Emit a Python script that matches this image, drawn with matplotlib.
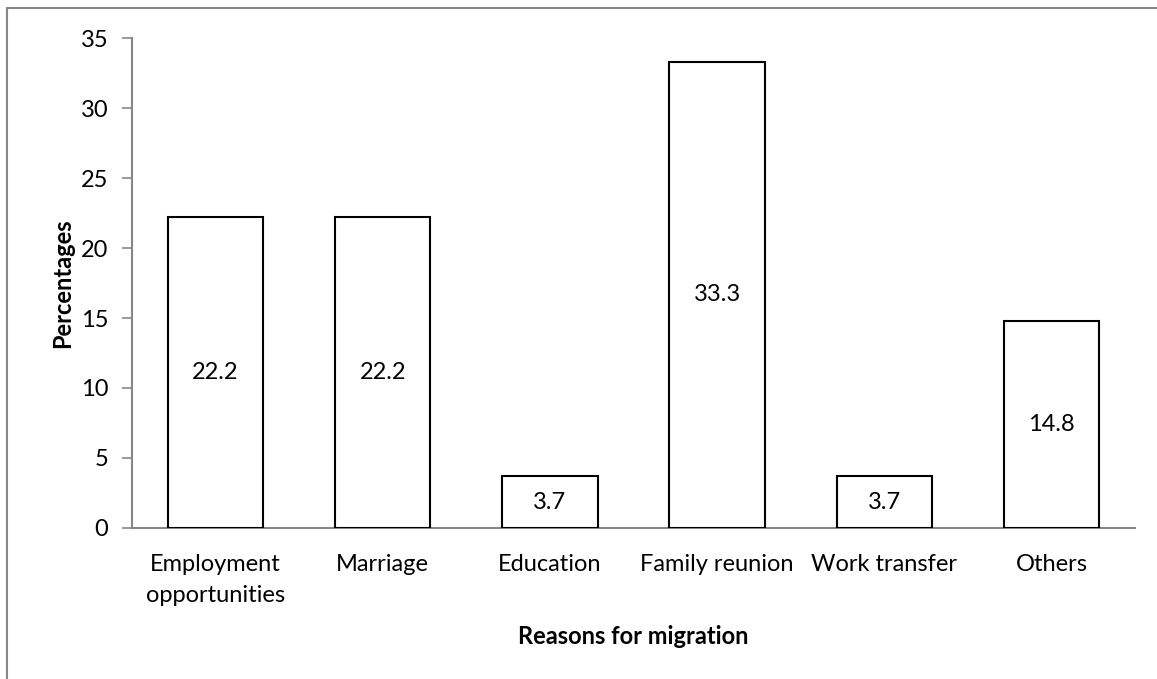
import matplotlib

matplotlib.use("Agg")
import matplotlib.pyplot as plt
from matplotlib.patches import Rectangle

# Reasons for migration, percentage of respondents
categories = ["Employment\nopportunities", "Marriage", "Education",
              "Family reunion", "Work transfer", "Others"]
percentages = [22.2, 22.2, 3.7, 33.3, 3.7, 14.8]
y_ticks = [0, 5, 10, 15, 20, 25, 30, 35]

plt.rcParams["font.family"] = ["Lato", "DejaVu Sans"]
fs = 17

fig = plt.figure(figsize=(11.57, 6.79), dpi=100)
ax = fig.add_axes([0.1141, 0.2224, 0.8669, 0.7216])

# outer chart frame (only the top and left edges fall inside the image)
fig.patches.append(Rectangle((7 / 1157, -0.5), 2.0, 1.5 - 8 / 679,
                             transform=fig.transFigure, fill=False,
                             edgecolor="#878787", linewidth=1.5))

x = range(len(categories))
bars = ax.bar(x, percentages, width=0.57, color="white",
              edgecolor="black", linewidth=1.5, zorder=3)
for bar, val in zip(bars, percentages):
    ax.text(bar.get_x() + bar.get_width() / 2, val / 2, f"{val:.1f}",
            ha="center", va="center", fontsize=fs, zorder=4)

ax.set_xlim(-0.5, len(categories) - 0.5)
ax.set_ylim(0, 35)
ax.set_yticks(y_ticks)
ax.set_xticks(list(x))
ax.set_xticklabels(categories, fontsize=fs, linespacing=1.55)
ax.tick_params(axis="y", labelsize=fs, length=7, width=1.2,
               color="#878787", pad=10)
ax.tick_params(axis="x", length=0, pad=19)

for side in ("top", "right"):
    ax.spines[side].set_visible(False)
for side in ("left", "bottom"):
    ax.spines[side].set_color("#878787")
    ax.spines[side].set_linewidth(1.5)

ax.set_ylabel("Percentages", fontsize=fs, fontweight="bold", labelpad=5)
ax.set_xlabel("Reasons for migration", fontsize=fs, fontweight="bold",
              labelpad=14)

fig.savefig("out.png", dpi=100)
